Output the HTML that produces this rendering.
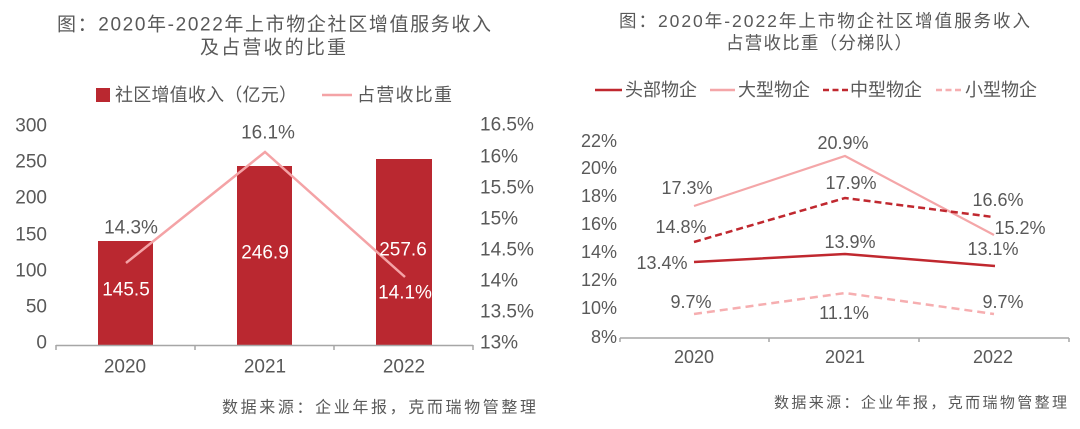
<!DOCTYPE html>
<html>
<head>
<meta charset="utf-8">
<style>
  html, body { margin:0; padding:0; background:#ffffff; }
  svg { display:block; }
  text { font-family: "Liberation Sans", "Noto Sans CJK SC", sans-serif; fill:#595959; }
</style>
</head>
<body>
<svg width="1080" height="429" viewBox="0 0 1080 429" xmlns="http://www.w3.org/2000/svg">
  <rect x="0" y="0" width="1080" height="429" fill="#ffffff"/>

  <!-- ================= LEFT CHART ================= -->
  <text x="57" y="25" font-size="19" dominant-baseline="central" textLength="434" lengthAdjust="spacing">图：2020年-2022年上市物企社区增值服务收入</text>
  <text x="200" y="48" font-size="19" dominant-baseline="central" textLength="146" lengthAdjust="spacing">及占营收的比重</text>

  <!-- legend -->
  <rect x="96" y="88" width="14" height="14" fill="#BA2830"/>
  <text x="115" y="95" font-size="18" dominant-baseline="central" textLength="182" lengthAdjust="spacing">社区增值收入（亿元）</text>
  <line x1="322" y1="95" x2="352" y2="95" stroke="#F4A3A6" stroke-width="2.5"/>
  <text x="357" y="95" font-size="18" dominant-baseline="central" textLength="95" lengthAdjust="spacing">占营收比重</text>

  <!-- left y axis labels -->
  <g font-size="19" text-anchor="end">
    <text x="47" y="126" dominant-baseline="central">300</text>
    <text x="47" y="162" dominant-baseline="central">250</text>
    <text x="47" y="198" dominant-baseline="central">200</text>
    <text x="47" y="235" dominant-baseline="central">150</text>
    <text x="47" y="271" dominant-baseline="central">100</text>
    <text x="47" y="307" dominant-baseline="central">50</text>
    <text x="47" y="343" dominant-baseline="central">0</text>
  </g>
  <!-- right y axis labels -->
  <g font-size="19">
    <text x="480" y="125" dominant-baseline="central">16.5%</text>
    <text x="480" y="157" dominant-baseline="central">16%</text>
    <text x="480" y="188" dominant-baseline="central">15.5%</text>
    <text x="480" y="219" dominant-baseline="central">15%</text>
    <text x="480" y="250" dominant-baseline="central">14.5%</text>
    <text x="480" y="281" dominant-baseline="central">14%</text>
    <text x="480" y="312" dominant-baseline="central">13.5%</text>
    <text x="480" y="343" dominant-baseline="central">13%</text>
  </g>

  <!-- bars -->
  <rect x="98" y="241" width="55" height="104.5" fill="#BA2830"/>
  <rect x="237" y="166" width="55" height="179.5" fill="#BA2830"/>
  <rect x="376" y="159" width="56" height="186.5" fill="#BA2830"/>

  <!-- axis -->
  <line x1="56" y1="345.5" x2="473" y2="345.5" stroke="#A6A6A6" stroke-width="1.5"/>
  <g stroke="#A6A6A6" stroke-width="1.5">
    <line x1="56" y1="345" x2="56" y2="350"/>
    <line x1="195" y1="345" x2="195" y2="350"/>
    <line x1="334" y1="345" x2="334" y2="350"/>
    <line x1="473" y1="345" x2="473" y2="350"/>
  </g>

  <!-- ratio line -->
  <polyline points="126,263 265,152 405,277" fill="none" stroke="#F4A3A6" stroke-width="2.5" stroke-linejoin="miter"/>

  <!-- data labels -->
  <g font-size="19" text-anchor="middle">
    <text x="131" y="228" dominant-baseline="central">14.3%</text>
    <text x="126" y="290" dominant-baseline="central" style="fill:#ffffff">145.5</text>
    <text x="268" y="133" dominant-baseline="central">16.1%</text>
    <text x="265" y="253" dominant-baseline="central" style="fill:#ffffff">246.9</text>
    <text x="403" y="250" dominant-baseline="central" style="fill:#ffffff">257.6</text>
    <text x="405" y="293" dominant-baseline="central" style="fill:#ffffff">14.1%</text>
  </g>

  <!-- categories -->
  <g font-size="19" text-anchor="middle">
    <text x="125" y="367" dominant-baseline="central">2020</text>
    <text x="265" y="367" dominant-baseline="central">2021</text>
    <text x="404" y="367" dominant-baseline="central">2022</text>
  </g>

  <text x="222" y="408" font-size="16" dominant-baseline="central" textLength="314" lengthAdjust="spacing">数据来源：企业年报，克而瑞物管整理</text>

  <!-- ================= RIGHT CHART ================= -->
  <text x="619" y="21" font-size="17.5" dominant-baseline="central" textLength="411" lengthAdjust="spacing">图：2020年-2022年上市物企社区增值服务收入</text>
  <text x="726" y="43" font-size="17.5" dominant-baseline="central" textLength="186" lengthAdjust="spacing">占营收比重（分梯队）</text>

  <!-- legend -->
  <line x1="595" y1="90" x2="622" y2="90" stroke="#C0282F" stroke-width="2.5"/>
  <text x="625" y="90" font-size="18" dominant-baseline="central" textLength="72" lengthAdjust="spacing">头部物企</text>
  <line x1="710" y1="90" x2="735" y2="90" stroke="#F4A6A8" stroke-width="2.5"/>
  <text x="738" y="90" font-size="18" dominant-baseline="central" textLength="72" lengthAdjust="spacing">大型物企</text>
  <line x1="823" y1="90" x2="848" y2="90" stroke="#C0282F" stroke-width="2.5" stroke-dasharray="6,3.5"/>
  <text x="850" y="90" font-size="18" dominant-baseline="central" textLength="72" lengthAdjust="spacing">中型物企</text>
  <line x1="936" y1="90" x2="962" y2="90" stroke="#F6AEB0" stroke-width="2.5" stroke-dasharray="6,3.5"/>
  <text x="965" y="90" font-size="18" dominant-baseline="central" textLength="72" lengthAdjust="spacing">小型物企</text>

  <!-- y labels -->
  <g font-size="18" text-anchor="end">
    <text x="617" y="141" dominant-baseline="central">22%</text>
    <text x="617" y="168" dominant-baseline="central">20%</text>
    <text x="617" y="196" dominant-baseline="central">18%</text>
    <text x="617" y="224" dominant-baseline="central">16%</text>
    <text x="617" y="252" dominant-baseline="central">14%</text>
    <text x="617" y="280" dominant-baseline="central">12%</text>
    <text x="617" y="308" dominant-baseline="central">10%</text>
    <text x="617" y="337" dominant-baseline="central">8%</text>
  </g>

  <!-- axis -->
  <line x1="620" y1="338" x2="1069" y2="338" stroke="#A6A6A6" stroke-width="1.5"/>
  <g stroke="#A6A6A6" stroke-width="1.5">
    <line x1="620" y1="338" x2="620" y2="342"/>
    <line x1="769" y1="338" x2="769" y2="342"/>
    <line x1="919" y1="338" x2="919" y2="342"/>
    <line x1="1069" y1="338" x2="1069" y2="342"/>
  </g>

  <!-- series -->
  <polyline points="694,206 845,156 994,235" fill="none" stroke="#F4A6A8" stroke-width="2.2"/>
  <polyline points="694,242 845,198 993,217" fill="none" stroke="#C0282F" stroke-width="2.5" stroke-dasharray="7,4"/>
  <polyline points="694,262 845,254 995,266" fill="none" stroke="#C0282F" stroke-width="2.5"/>
  <polyline points="694,314 845,293 994,314" fill="none" stroke="#F6AEB0" stroke-width="2.5" stroke-dasharray="8,5"/>

  <!-- data labels -->
  <g font-size="18" text-anchor="middle">
    <text x="687" y="188" dominant-baseline="central">17.3%</text>
    <text x="843" y="143" dominant-baseline="central">20.9%</text>
    <text x="851" y="183" dominant-baseline="central">17.9%</text>
    <text x="998" y="200" dominant-baseline="central">16.6%</text>
    <text x="681" y="227" dominant-baseline="central">14.8%</text>
    <text x="1020" y="228" dominant-baseline="central">15.2%</text>
    <text x="850" y="242" dominant-baseline="central">13.9%</text>
    <text x="993" y="249" dominant-baseline="central">13.1%</text>
    <text x="662" y="263" dominant-baseline="central">13.4%</text>
    <text x="691" y="302" dominant-baseline="central">9.7%</text>
    <text x="844" y="313" dominant-baseline="central">11.1%</text>
    <text x="1003" y="302" dominant-baseline="central">9.7%</text>
  </g>

  <!-- categories -->
  <g font-size="18" text-anchor="middle">
    <text x="694" y="357" dominant-baseline="central">2020</text>
    <text x="845" y="357" dominant-baseline="central">2021</text>
    <text x="993" y="357" dominant-baseline="central">2022</text>
  </g>

  <text x="774" y="403" font-size="15" dominant-baseline="central" textLength="293" lengthAdjust="spacing">数据来源：企业年报，克而瑞物管整理</text>
</svg>
</body>
</html>
